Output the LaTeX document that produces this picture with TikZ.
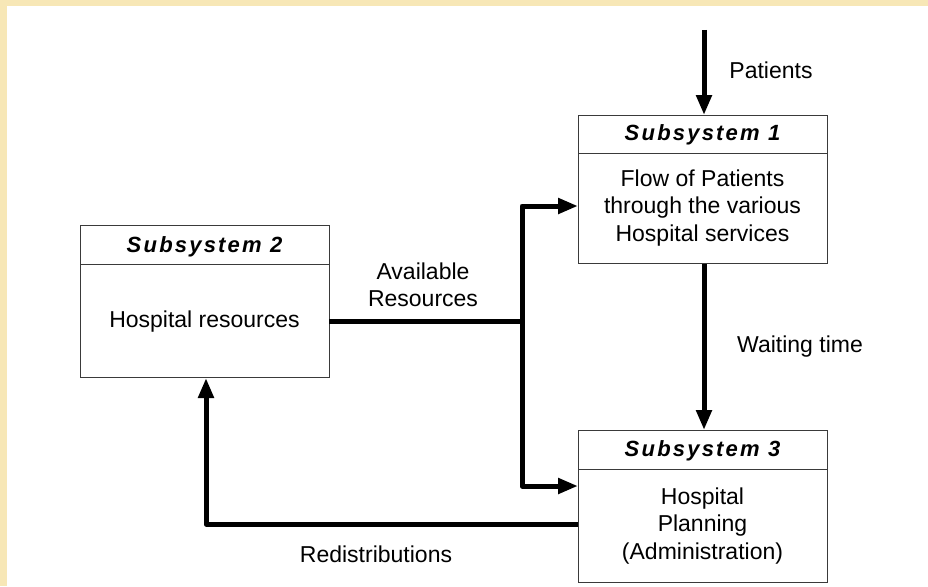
\documentclass[tikz,border=0pt]{standalone}
\usepackage{fontspec}
\setmainfont{Liberation Sans}
\usetikzlibrary{arrows.meta}
\definecolor{frameyellow}{HTML}{F7E7B6}
\definecolor{boxline}{HTML}{3A3A3A}
\tikzset{
  x=1pt, y=-1pt,
  box/.style={draw=boxline, line width=1pt, fill=white, inner sep=0pt, anchor=north west},
  head/.style={font=\fontsize{22}{24}\selectfont\bfseries\itshape\addfontfeature{LetterSpace=10}},
  body/.style={font=\fontsize{23}{27.5}\selectfont, align=center},
  lbl/.style={font=\fontsize{23}{27.5}\selectfont, align=center},
  flow/.style={line width=5pt, -{Triangle[length=20pt,width=15pt]}},
  plain/.style={line width=5pt},
}
\begin{document}
\begin{tikzpicture}
  % page frame
  \fill[frameyellow] (0,0) rectangle (928,586);
  \fill[white] (7,6) rectangle (928,586);
  \useasboundingbox (0,0) rectangle (928,586);

  % Subsystem boxes
  \node[box, minimum width=249pt, minimum height=148pt] (s1) at (578,115) {};
  \node[box, minimum width=249pt, minimum height=152pt] (s2) at (80,225) {};
  \node[box, minimum width=249pt, minimum height=152pt] (s3) at (578,430) {};

  % header dividers
  \draw[boxline, line width=1pt] (578,153) -- (827,153);
  \draw[boxline, line width=1pt] (80,264) -- (329,264);
  \draw[boxline, line width=1pt] (578,469) -- (827,469);

  % headers and contents
  \node[head] (h1) at (702.5,134.5) {Subsystem 1};
  \node[head] (h2) at (204.5,246.5) {Subsystem 2};
  \node[head] (h3) at (702.5,450.5) {Subsystem 3};
  \node[body] (t1) at (702.5,208) {Flow of Patients\\through the various\\Hospital services};
  \node[body] (t2) at (204.5,322) {Hospital resources};
  \node[body] (t3) at (702.5,526) {Hospital\\Planning\\(Administration)};

  % connector points
  \coordinate (pin) at (704,30);
  \coordinate (res) at (329,321);
  \coordinate (junc) at (522,321);
  \coordinate (up) at (522,206);
  \coordinate (down) at (522,486);
  \coordinate (rd) at (578,524);
  \coordinate (rc) at (206,524);

  % flows
  \draw[flow] (pin) -- (s1.north -| pin);
  \draw[flow] (s1.south -| pin) -- (s3.north -| pin);
  \draw[plain] (res) -- (junc);
  \draw[flow, line join=round] (junc) -- (up) -- (up -| s1.west);
  \draw[flow, line join=round] (junc) -- (down) -- (down -| s3.west);
  \draw[flow, line join=round] (rd) -- (rc) -- (rc |- s2.south);

  % labels
  \node[lbl] (lp) at (771,70) {Patients};
  \node[lbl] (lw) at (800,347) {Waiting time};
  \node[lbl] (la) at (423,285) {Available\\Resources};
  \node[lbl] (lr) at (376,554) {Redistributions};
\end{tikzpicture}
\end{document}
